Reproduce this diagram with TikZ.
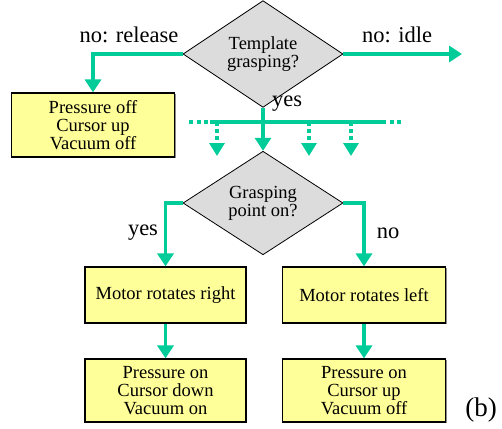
\documentclass[tikz,border=0pt]{standalone}
\usepackage{fontspec}
\setmainfont{Liberation Serif}
\usetikzlibrary{shapes.geometric,arrows.meta,shadows}
\definecolor{flow}{RGB}{0,204,153}
\definecolor{boxfill}{RGB}{255,255,153}
\definecolor{decfill}{RGB}{220,220,220}
\begin{document}
\begin{tikzpicture}[x=1pt,y=-1pt,
  actbox/.style={draw=black,line width=1.2pt,fill=boxfill,align=center,inner sep=0pt,
    font=\fontsize{18.5}{18}\selectfont,
    drop shadow={shadow xshift=1.2pt,shadow yshift=-1.2pt,fill=black!45,opacity=1}},
  decision/.style={diamond,draw=black,line width=0.8pt,fill=decfill,align=center,inner sep=0pt,
    minimum width=160pt,minimum height=90pt,font=\fontsize{18.5}{18}\selectfont},
  flowline/.style={draw=flow,line width=3.6pt},
  flowarrow/.style={flowline,-{Triangle[width=16pt,length=13pt]}},
  dotline/.style={draw=flow,line width=3.6pt,dash pattern=on 4pt off 3.5pt},
  dotarrow/.style={draw=flow,line width=3.2pt,dash pattern=on 4pt off 3pt,
    -{Triangle[width=15pt,length=13pt]}},
  lbl/.style={font=\fontsize{22.5}{24}\selectfont,inner sep=0pt}]
\useasboundingbox (0,0) rectangle (502,428);

\node[decision] (d1) at (263,54) {Template\\grasping?};
\node[actbox,minimum width=163pt,minimum height=64pt] (rel) at (93,125) {Pressure off\\Cursor up\\Vacuum off};
\node[decision] (d2) at (263,203) {Grasping\\point on?};
\node[actbox,minimum width=161pt,minimum height=56pt] (mr) at (165.5,295) {Motor rotates right};
\node[actbox,minimum width=163pt,minimum height=56pt] (ml) at (364,295) {Motor rotates left};
\node[actbox,minimum width=161pt,minimum height=63pt] (br) at (165.5,390.5) {Pressure on\\Cursor down\\Vacuum on};
\node[actbox,minimum width=163pt,minimum height=63pt] (bl) at (364,390.5) {Pressure on\\Cursor up\\Vacuum off};

\coordinate (idle) at (462,54);
\coordinate (barL) at (189,122);
\coordinate (barLs) at (210,122);
\coordinate (barRs) at (382,122);
\coordinate (barR) at (404,122);
\coordinate (da) at (217,122);
\coordinate (db) at (309,122);
\coordinate (dc) at (351,122);
\coordinate (dae) at (217,156);
\coordinate (dbe) at (309,156);
\coordinate (dce) at (351,156);

\node[lbl] (tno) at (129,35) {no: release};
\node[lbl] (tidle) at (397,35) {no: idle};
\node[lbl,anchor=west] (tyes) at (272,104) {yes};
\node[lbl] (tyes2) at (143,233) {yes};
\node[lbl] (tno2) at (388,233) {no};
\node[font=\fontsize{27}{28}\selectfont,inner sep=0pt] (tb) at (481,410) {(b)};

\draw[flowarrow] (d1.west) -| (rel.north);
\draw[flowarrow] (d1.east) -- (idle);
\draw[flowarrow] (d1.south) -- (d2.north);
\draw[flowline] (barLs) -- (barRs);
\draw[dotline] (barL) -- (barLs);
\draw[dotline] (barRs) -- (barR);
\draw[dotarrow] (da) -- (dae);
\draw[dotarrow] (db) -- (dbe);
\draw[dotarrow] (dc) -- (dce);
\draw[flowarrow] (d2.west) -| (mr.north);
\draw[flowarrow] (d2.east) -| (ml.north);
\draw[flowarrow] (mr.south) -- (br.north);
\draw[flowarrow] (ml.south) -- (bl.north);
\end{tikzpicture}
\end{document}
